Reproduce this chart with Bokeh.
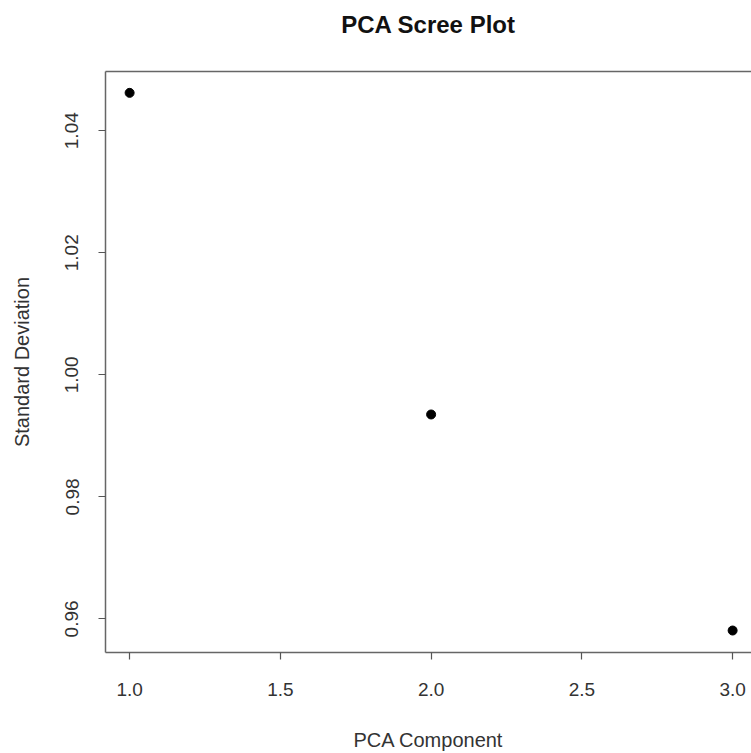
from bokeh.plotting import figure
from bokeh.models import Range1d, FixedTicker, ColumnDataSource, LinearAxis
from bokeh.embed import file_html
from bokeh.resources import INLINE

# Data
components = [1, 2, 3]
std_dev = [1.0462, 0.9935, 0.9581]
x_ticks = [1.0, 1.5, 2.0, 2.5, 3.0]
y_ticks = [0.96, 0.98, 1.00, 1.02, 1.04]
title_text = "PCA Scree Plot"

FONT = "Liberation Sans"
Y0, Y1 = 0.9545, 1.0497
X0, X1 = 0.92, 3.0626

p = figure(width=751, height=753, output_backend="svg", toolbar_location=None,
           x_range=Range1d(X0, X1), y_range=Range1d(Y0, Y1),
           min_border_left=105, min_border_right=0, min_border_top=71,
           min_border_bottom=101)
p.background_fill_color = "white"
p.border_fill_color = "white"
p.outline_line_color = None
p.xgrid.visible = False
p.ygrid.visible = False

src = ColumnDataSource(dict(x=components, y=std_dev))
p.scatter("x", "y", source=src, size=9, color="black")

for ax in (p.xaxis[0], p.yaxis[0]):
    ax.axis_line_color = "#666666"
    ax.axis_line_width = 1.5
    ax.major_tick_line_color = "#555555"
    ax.major_tick_line_width = 1.2
    ax.major_tick_out = 7
    ax.major_tick_in = 0
    ax.minor_tick_line_color = None
    ax.major_label_text_font = FONT
    ax.major_label_text_font_size = "19px"
    ax.major_label_text_color = "#333333"
    ax.axis_label_text_font = FONT
    ax.axis_label_text_font_size = "20px"
    ax.axis_label_text_font_style = "normal"
    ax.axis_label_text_color = "#333333"

p.xaxis[0].ticker = FixedTicker(ticks=x_ticks)
p.yaxis[0].ticker = FixedTicker(ticks=y_ticks)
p.xaxis[0].major_label_overrides = {v: f"{v:.1f}" for v in x_ticks}
p.yaxis[0].major_label_overrides = {v: f"{v:.2f}" for v in y_ticks}
p.xaxis[0].axis_label = "PCA Component"
p.yaxis[0].axis_label = "Standard Deviation"
p.yaxis[0].major_label_orientation = "vertical"
p.xaxis[0].major_label_standoff = 23
p.yaxis[0].major_label_standoff = 20
p.xaxis[0].axis_label_standoff = 30
p.yaxis[0].axis_label_standoff = 30

# top edge of the plot box, carrying the title as its label
top = LinearAxis(ticker=FixedTicker(ticks=[]), axis_label=title_text,
                 axis_line_color="#666666", axis_line_width=1.5,
                 major_tick_line_color=None, minor_tick_line_color=None,
                 major_tick_out=0, major_tick_in=0, minor_tick_out=0, minor_tick_in=0,
                 major_label_standoff=0, axis_label_standoff=34,
                 axis_label_text_font=FONT, axis_label_text_font_size="24px",
                 axis_label_text_font_style="bold", axis_label_text_color="#111111")
p.add_layout(top, "above")

open("out.html", "w").write(file_html(p, INLINE))
